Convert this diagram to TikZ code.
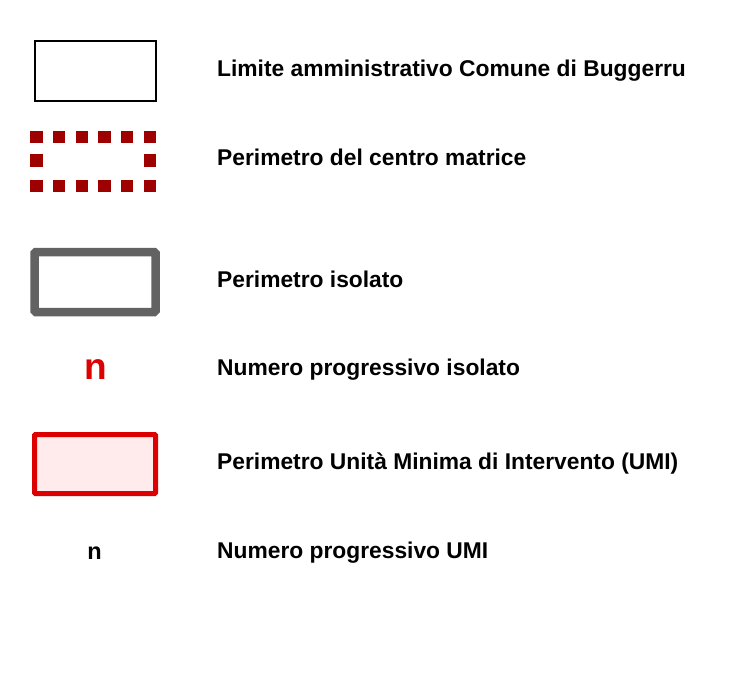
\documentclass[tikz,border=0pt]{standalone}
\usepackage{fontspec}
\setmainfont{Liberation Sans}
\definecolor{darkred}{HTML}{9E0000}
\definecolor{isogray}{HTML}{626262}
\definecolor{umired}{HTML}{DD0000}
\definecolor{umifill}{HTML}{FFEBEB}
\begin{document}
\begin{tikzpicture}[x=1pt,y=-1pt,
  lbl/.style={anchor=base west,font=\bfseries\fontsize{22.8}{26}\selectfont,inner sep=0pt},
  symbox/.style={minimum width=121pt,minimum height=60pt,inner sep=0pt},
  sq/.style={fill=darkred,minimum size=12.4pt,inner sep=0pt}]
\useasboundingbox (0,0) rectangle (732,675);
\node[symbox,draw=black,line width=1.5pt] (b1) at (95.5,71) {};
\node[lbl] (t1) at (217,76.7) {Limite amministrativo Comune di Buggerru};
\node[symbox,minimum width=113.5pt,minimum height=49pt] (b2) at (93.1,161.5) {};
\foreach \i in {0,...,5} {
  \node[sq] (s2t\i) at (36.3+22.7*\i,137) {};
  \node[sq] (s2b\i) at (36.3+22.7*\i,186) {};
}
\node[sq] (s2l) at (36.3,160.5) {};
\node[sq] (s2r) at (149.8,160.5) {};
\node[lbl] (t2) at (217,165) {Perimetro del centro matrice};
\node[symbox,draw=isogray,line width=8.5pt,rounded corners=1.5pt] (b3) at (95,282) {};
\node[lbl] (t3) at (217,287) {Perimetro isolato};
\node[anchor=base,font=\bfseries\fontsize{37}{40}\selectfont,text=umired,inner sep=0pt] (n1) at (95.3,379) {n};
\node[lbl] (t4) at (217,375.7) {Numero progressivo isolato};
\node[symbox,draw=umired,fill=umifill,line width=5pt,rounded corners=1pt,minimum height=59pt] (b5) at (95,464) {};
\node[lbl] (t5) at (217,469) {Perimetro Unità Minima di Intervento (UMI)};
\node[anchor=base,font=\bfseries\fontsize{23.5}{26}\selectfont,inner sep=0pt] (n2) at (94.5,559) {n};
\node[lbl] (t6) at (217,558.3) {Numero progressivo UMI};
\end{tikzpicture}
\end{document}
